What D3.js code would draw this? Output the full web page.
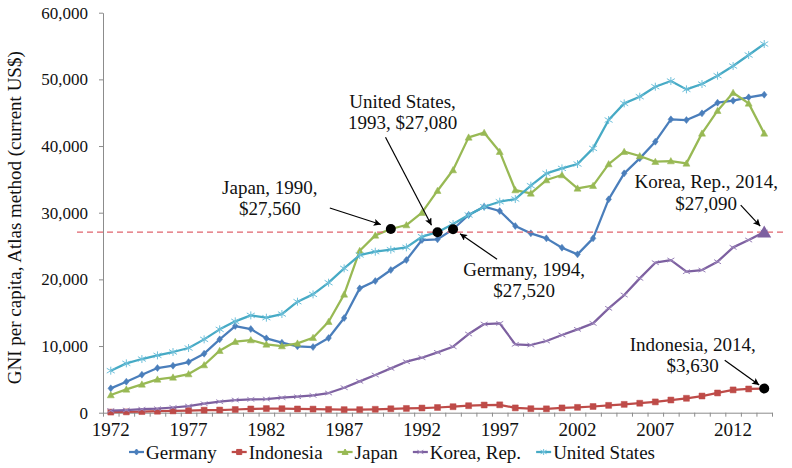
<!DOCTYPE html>
<html><head><meta charset="utf-8">
<script src="https://cdn.jsdelivr.net/npm/d3@7"></script>
<style>body{margin:0;background:#fff}svg{display:block}</style>
</head><body><svg id="c" width="792" height="468"></svg>
<script>
// ---------- DATA ----------
const years = [1972,1973,1974,1975,1976,1977,1978,1979,1980,1981,1982,1983,1984,1985,1986,1987,1988,1989,1990,1991,1992,1993,1994,1995,1996,1997,1998,1999,2000,2001,2002,2003,2004,2005,2006,2007,2008,2009,2010,2011,2012,2013,2014];
const germany = [3650,4650,5700,6700,7050,7600,8850,11000,13000,12550,11150,10500,9950,9850,11200,14200,18650,19750,21400,22900,25900,26000,27520,29650,30900,30250,28000,26900,26150,24750,23750,26150,32000,35900,38150,40650,44000,43900,44900,46500,46800,47300,47700];
const indonesia = [90,120,170,220,270,320,380,400,480,560,620,600,560,540,500,460,460,510,590,640,700,780,900,1050,1150,1180,720,600,580,720,800,930,1100,1250,1420,1620,1900,2160,2500,2960,3420,3560,3630];
const japan = [2650,3500,4250,5000,5300,5800,7150,9300,10650,10900,10250,10000,10400,11250,13650,17750,24300,26600,27560,28150,30000,33300,36400,41300,42000,39150,33400,32900,34900,35650,33650,34050,37300,39150,38500,37650,37750,37400,41900,45300,48000,46400,41900];
const korea = [320,400,520,600,780,1000,1350,1650,1900,2000,2050,2250,2400,2600,2950,3750,4700,5650,6650,7650,8250,9050,9900,11800,13300,13400,10250,10150,10750,11650,12500,13400,15650,17650,20150,22500,22900,21150,21400,22650,24800,25900,27090];
const unitedStates = [6300,7400,8050,8600,9100,9700,11000,12500,13700,14600,14250,14800,16650,17750,19500,21650,23650,24150,24450,24800,26400,27080,28300,29650,30900,31650,32050,34050,35900,36650,37300,39650,43900,46400,47400,48900,49750,48500,49300,50550,52000,53650,55300];
const seriesNames = ["Germany","Indonesia","Japan","Korea, Rep.","United States"];
const yTicks = [0,10000,20000,30000,40000,50000,60000];
const xLabelYears = [1972,1977,1982,1987,1992,1997,2002,2007,2012];
const referenceValue = 27090;
const yTitle = "GNI per capita, Atlas method (current US$)";
const annotations = [
  {name:"Japan", year:1990, value:27560, lines:["Japan, 1990,","$27,560"]},
  {name:"United States", year:1993, value:27080, lines:["United States,","1993, $27,080"]},
  {name:"Germany", year:1994, value:27520, lines:["Germany, 1994,","$27,520"]},
  {name:"Korea, Rep.", year:2014, value:27090, lines:["Korea, Rep., 2014,","$27,090"]},
  {name:"Indonesia", year:2014, value:3630, lines:["Indonesia, 2014,","$3,630"]}
];

// ---------- STYLE ----------
const FONT = "'Liberation Serif','Times New Roman',serif";
const colors = ["#4A7EBB","#BE4B48","#98B954","#7D60A0","#46AAC5"];
const markerColors = ["#4A7EBB","#BE4B48","#98B954","#9B84BA","#6FC0DA"];
const shapes = ["diamond","square","triangle","x","asterisk"];
// annotation layout offsets (relative to the annotated point)
const annLayout = {
  "Japan":        {tx:-121, ty:[-35,-14], a0:[-61,-21], a1:[-10,-4.5], mark:"dot"},
  "United States":{tx:-35,  ty:[-124,-103], a0:[-52,-95], a1:[-6,-7], mark:"dot"},
  "Germany":      {tx:71,   ty:[47,68], a0:[44,30], a1:[7,4.6], mark:"dot"},
  "Korea, Rep.":  {tx:-58,  ty:[-44,-22.5], a0:[-23.5,-27], a1:[-4,-6], mark:"triangle"},
  "Indonesia":    {tx:-71.5,ty:[-38,-17], a0:[-39.5,-28.3], a1:[-5,-3.5], mark:"dot"}
};

const svg = d3.select("#c");
const plotL = 103, plotR = 772, plotT = 12.7, plotB = 412.7;
const x = d3.scaleBand().domain(years).range([plotL, plotR]).padding(0);
const cx = d => x(d) + x.bandwidth()/2;
const y = d3.scaleLinear().domain([0,60000]).range([plotB, plotT]);

function markerPath(shape, s){
  const h = s/2;
  switch(shape){
    case "diamond": return `M0,${-h}L${h*0.8},0L0,${h}L${-h*0.8},0Z`;
    case "square": return `M${-h*0.85},${-h*0.85}h${h*1.7}v${h*1.7}h${-h*1.7}Z`;
    case "triangle": return `M0,${-h}L${h},${h*0.8}L${-h},${h*0.8}Z`;
    case "x": return `M${-h},${-h*0.6}L${h},${h*0.6}M${-h},${h*0.6}L${h},${-h*0.6}`;
    case "asterisk": return `M${-h},${-h*0.6}L${h},${h*0.6}M${-h},${h*0.6}L${h},${-h*0.6}M0,${-h}L0,${h}`;
  }
}
const filled = s => s==="diamond"||s==="square"||s==="triangle";

// ---------- AXES ----------
const gy = svg.append("g").attr("transform",`translate(${plotL},0)`)
  .call(d3.axisLeft(y).tickValues(yTicks).tickSize(4).tickSizeOuter(0).tickPadding(11).tickFormat(d3.format(",")));
gy.select(".domain").attr("stroke","#8c8c8c");
gy.selectAll(".tick line").attr("stroke","#8c8c8c");
gy.selectAll("text").attr("font-family",FONT).attr("font-size",17).attr("fill","#111");

const gx = svg.append("g").attr("transform",`translate(0,${plotB})`)
  .call(d3.axisBottom(x).tickValues(xLabelYears).tickSize(0).tickSizeOuter(0).tickPadding(9.5));
gx.select(".domain").attr("stroke","#8c8c8c");
gx.selectAll("text").attr("font-family",FONT).attr("font-size",19).attr("fill","#111");
// category boundary tick marks
const xb = d3.scaleLinear().domain([0, years.length]).range([plotL, plotR]);
svg.append("g").attr("transform",`translate(0,${plotB})`)
  .call(d3.axisBottom(xb).tickValues(d3.range(0, years.length+1)).tickSize(4).tickSizeOuter(0).tickFormat(""))
  .call(g=>{g.select(".domain").remove(); g.selectAll("line").attr("stroke","#8c8c8c");});

// y title
svg.append("text").attr("transform",`translate(21,${(plotT+plotB)/2+5}) rotate(-90)`)
  .attr("text-anchor","middle").attr("font-family",FONT).attr("font-size",19).attr("fill","#111")
  .text(yTitle);

// ---------- SERIES ----------
const allSeries = [germany, indonesia, japan, korea, unitedStates];
const line = d3.line().x((d,i)=>cx(years[i])).y(d=>y(d));
allSeries.forEach((vals,k)=>{
  const g = svg.append("g");
  g.append("path").datum(vals).attr("d",line).attr("fill","none")
    .attr("stroke",colors[k]).attr("stroke-width",2.25).attr("stroke-linejoin","round");
  g.selectAll("path.m").data(vals).join("path").attr("class","m")
    .attr("transform",(d,i)=>`translate(${cx(years[i])},${y(d)})`)
    .attr("d",markerPath(shapes[k], k===4?8:7))
    .attr("fill",filled(shapes[k])?colors[k]:"none")
    .attr("stroke",filled(shapes[k])?colors[k]:markerColors[k])
    .attr("stroke-width",filled(shapes[k])?0.5:1);
});

// reference dashed line
svg.append("line").attr("x1",plotL-26).attr("x2",plotR+11)
  .attr("y1",y(referenceValue)).attr("y2",y(referenceValue))
  .attr("stroke","#E0646E").attr("stroke-width",1.3).attr("stroke-dasharray","6,4");

// ---------- ANNOTATIONS ----------
svg.append("defs").append("marker").attr("id","arr").attr("viewBox","0 0 10 10")
  .attr("refX",10).attr("refY",5).attr("markerWidth",9).attr("markerHeight",7)
  .attr("markerUnits","userSpaceOnUse").attr("orient","auto")
  .append("path").attr("d","M0,0L10,5L0,10L2,5Z").attr("fill","#000");

annotations.forEach(a=>{
  const L = annLayout[a.name];
  const px = cx(a.year), py = y(a.value);
  if(L.mark==="dot"){
    svg.append("circle").attr("cx",px).attr("cy",py).attr("r",5).attr("fill","#000");
  } else {
    svg.append("path").attr("transform",`translate(${px},${py})`)
      .attr("d","M0,-6.5L7,5.5L-7,5.5Z").attr("fill",colors[3]);
  }
  svg.append("line").attr("x1",px+L.a0[0]).attr("y1",py+L.a0[1])
    .attr("x2",px+L.a1[0]).attr("y2",py+L.a1[1])
    .attr("stroke","#000").attr("stroke-width",1.2).attr("marker-end","url(#arr)");
  a.lines.forEach((t,i)=>{
    svg.append("text").attr("x",px+L.tx).attr("y",py+L.ty[i]).attr("text-anchor","middle")
      .attr("font-family",FONT).attr("font-size",19).attr("fill","#111").text(t);
  });
});

// ---------- LEGEND ----------
const leg = svg.append("g");
let lx = 0;
const legGap = 15;
seriesNames.forEach((n,k)=>{
  const g = leg.append("g").attr("transform",`translate(${lx},0)`);
  g.append("line").attr("x1",0).attr("x2",15).attr("y1",0).attr("y2",0)
    .attr("stroke",colors[k]).attr("stroke-width",2.25);
  g.append("path").attr("transform","translate(7.5,0)").attr("d",markerPath(shapes[k],6))
    .attr("fill",filled(shapes[k])?colors[k]:"none")
    .attr("stroke",filled(shapes[k])?colors[k]:markerColors[k]).attr("stroke-width",1);
  const t = g.append("text").attr("x",17).attr("y",6.5).attr("font-family",FONT)
    .attr("font-size",19).attr("fill","#111").text(n);
  lx += 17 + t.node().getComputedTextLength() + legGap;
});
const legW = lx - legGap;
leg.attr("transform",`translate(${392 - legW/2},452)`);
</script></body></html>
